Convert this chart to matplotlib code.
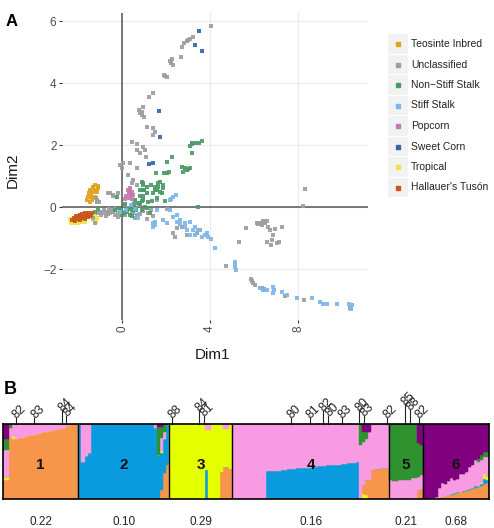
import numpy as np
import matplotlib
matplotlib.use("Agg")
import matplotlib.pyplot as plt
from matplotlib.patches import Rectangle

plt.rcParams["font.family"] = ["Liberation Sans", "DejaVu Sans"]

W, H = 494, 528

# ---------------- panel A data (Dim1, Dim2) ----------------
UNCLASSIFIED = [
    (4.05, 5.83), (3.24, 5.47), (3.09, 5.42), (2.94, 5.36), (2.83, 5.28), (2.73, 5.15), (3.00, 5.40),
    (2.68, 4.85), (2.26, 4.77), (2.21, 4.64), (2.30, 4.58), (2.18, 4.70), (1.91, 4.26), (2.03, 4.18),
    (1.97, 4.22), (1.42, 3.69), (1.23, 3.54), (0.97, 3.22), (0.82, 3.02), (0.89, 2.96), (1.00, 2.91),
    (0.79, 3.13), (0.92, 3.05), (1.12, 2.59), (1.42, 2.54), (1.50, 2.43), (1.42, 2.32), (0.44, 2.11),
    (0.67, 2.02), (0.97, 1.95), (1.06, 1.84), (0.82, 1.73), (1.09, 1.61), (0.67, 1.84), (-0.09, 1.35),
    (0.06, 1.43), (0.36, 1.41), (0.67, 1.25), (-0.02, 1.25), (0.29, 1.03), (0.44, 0.76), (0.52, 0.87),
    (0.67, 0.71), (0.36, 0.55), (-0.17, 0.44), (-0.55, 0.46), (-0.42, 0.35), (-0.62, 0.46), (-0.39, 0.39),
    (-1.15, 0.23), (-1.03, 0.17), (-1.23, -0.53), (-1.30, -0.37), (-1.00, -0.15), (-0.85, -0.20),
    (-0.70, -0.15), (-0.55, -0.20), (-0.47, -0.10), (-0.32, -0.26), (-0.17, -0.31), (-0.09, -0.10),
    (0.14, 0.07), (0.29, -0.04), (0.44, -0.15), (0.80, -0.24), (0.95, -0.13), (1.18, -0.18), (1.12, -0.40),
    (1.42, -0.29), (1.58, 0.23), (-1.10, -0.20), (-0.95, -0.25), (-0.80, -0.10), (-0.75, -0.30),
    (-0.65, -0.22), (-0.60, -0.05), (-0.40, -0.15), (-0.30, -0.05), (-0.20, -0.20), (0.05, -0.15),
    (0.15, -0.25), (0.25, -0.05), (0.50, -0.20), (0.60, -0.35), (0.75, 0.05), (1.30, -0.10), (2.05, -0.05),
    (-1.20, 0.30), (-1.15, 0.15), (2.33, -0.83), (2.41, -0.96), (2.97, -0.90), (3.39, -0.83), (3.55, -0.74),
    (2.71, -0.63), (2.48, -0.69), (8.32, 0.57), (8.21, 0.03), (5.62, -0.69), (5.33, -1.12), (6.12, -0.53),
    (6.27, -0.50), (6.42, -0.44), (6.50, -0.53), (6.35, -0.58), (6.20, -0.55), (6.65, -0.66), (6.73, -0.74),
    (6.95, -0.72), (7.26, -0.63), (6.85, -0.90), (6.80, -1.06), (6.58, -1.12), (6.76, -1.23), (7.06, -1.15),
    (7.15, -1.12), (6.45, -0.47), (6.60, -0.45), (4.73, -1.89), (5.85, -2.32), (5.94, -2.44), (5.90, -2.40),
    (6.35, -2.62), (6.45, -2.66), (7.41, -2.87), (8.27, -3.00), (10.36, -3.27), (6.05, -2.52),
]
NON_STIFF = [
    (3.62, 2.13), (3.52, 2.08), (3.36, 2.05), (3.18, 2.03), (3.09, 1.97), (3.20, 2.08), (3.17, 1.73),
    (2.26, 1.62), (2.03, 1.44), (2.14, 1.14), (2.03, 1.11), (1.92, 1.09), (3.09, 1.25), (2.94, 1.19),
    (2.79, 1.14), (2.71, 1.30), (2.85, 1.25), (3.00, 1.22), (1.55, 1.09), (1.73, 0.82), (1.65, 0.66),
    (1.50, 0.55), (1.80, 0.44), (1.88, 0.71), (1.42, 0.44), (1.30, 0.71), (1.12, 0.44), (0.89, 0.82),
    (0.97, 0.71), (0.82, 0.34), (0.97, 0.23), (1.05, 0.01), (0.89, -0.10), (0.52, -0.10), (0.21, -0.15),
    (0.44, 0.01), (0.74, 0.12), (1.12, -0.04), (0.36, -0.26), (0.59, 0.23), (0.82, 0.55), (0.97, 0.34),
    (-0.24, 0.33), (-0.17, -0.04), (-0.32, -0.10), (3.44, 0.01), (0.15, 0.10), (0.30, -0.05), (0.55, 0.10),
    (0.65, -0.10), (0.80, 0.10), (0.90, 0.20), (1.00, 0.55), (0.10, -0.20), (-0.05, -0.10), (1.20, 0.15),
    (1.35, 0.20), (1.60, 0.30), (1.95, 0.20), (1.25, -0.20), (0.97, 0.55), (0.97, 0.76), (1.12, 0.65),
    (1.50, 0.65), (1.65, 0.76), (1.58, 0.55), (1.88, 0.60), (1.73, 0.49), (-1.23, -0.15), (-1.10, -0.05),
    (0.00, -0.25), (0.70, -0.25), (0.45, -0.30),
]
STIFF = [
    (2.45, 0.39), (2.21, 0.26), (2.33, 0.33), (2.18, 0.23), (1.59, -0.10), (1.50, -0.58), (1.42, -0.63),
    (1.88, -0.42), (2.03, -0.50), (2.18, -0.10), (2.33, -0.31), (2.48, -0.47), (2.64, -0.55), (2.86, -0.63),
    (2.94, -0.74), (3.09, -0.90), (3.24, -0.74), (3.32, -0.90), (3.55, -0.74), (3.62, -0.96), (3.77, -0.90),
    (3.92, -0.98), (4.03, -1.04), (4.23, -1.33), (5.14, -1.76), (5.14, -1.92), (5.18, -2.03), (5.12, -1.85),
    (6.27, -2.62), (6.42, -2.68), (6.58, -2.68), (6.88, -2.58), (6.91, -2.68), (6.86, -2.78), (7.26, -2.73),
    (7.48, -2.84), (7.94, -2.95), (8.62, -2.95), (9.00, -3.06), (9.15, -3.12), (9.30, -3.12), (9.76, -3.14),
    (10.33, -3.14), (10.44, -3.17), (10.39, -3.28), (0.67, -0.26), (0.74, -0.37), (1.50, -0.47),
    (1.42, -0.52), (2.48, -0.26), (2.64, -0.42), (2.86, -0.53), (3.09, -0.47), (3.32, -0.64), (3.47, -0.74),
    (0.40, 0.05), (-0.10, -0.15), (0.20, -0.10), (0.60, -0.05), (3.85, -0.85),
]
SWEET = [(3.50, 5.69), (3.32, 5.23), (3.62, 5.04), (1.70, 3.10), (1.73, 2.25), (1.42, 1.43), (1.24, 1.38)]
POPCORN = [(0.25, 0.55), (0.35, 0.52), (0.45, 0.48), (0.30, 0.42), (0.40, 0.38), (0.20, 0.35),
           (0.32, 0.30), (0.45, 0.27), (0.15, 0.25), (0.52, 0.40), (0.38, 0.60)]
TEOSINTE = [(-1.23, 0.71), (-1.08, 0.68), (-1.30, 0.66), (-1.45, 0.55), (-1.33, 0.49), (-1.15, 0.49),
            (-1.53, 0.33), (-1.38, 0.28), (-1.58, 0.23), (-1.45, 0.17), (-1.23, 0.33), (-1.30, 0.60),
            (-1.20, 0.55), (-1.40, 0.40), (-1.50, 0.45), (-1.10, 0.62), (-1.35, 0.22)]
TUSON = [(-2.28, -0.42), (-2.20, -0.35), (-2.10, -0.30), (-2.00, -0.28), (-1.90, -0.25), (-1.80, -0.22),
         (-1.70, -0.20), (-1.60, -0.22), (-1.50, -0.20), (-1.40, -0.25), (-2.20, -0.42), (-2.05, -0.40),
         (-1.95, -0.38), (-1.85, -0.35), (-1.75, -0.33), (-1.65, -0.30), (-1.55, -0.32), (-1.45, -0.30),
         (-2.15, -0.45), (-1.35, -0.20), (-1.90, -0.42), (-1.70, -0.40)]
TROPICAL = [(-2.30, -0.50), (-2.15, -0.52), (-2.00, -0.50), (-1.85, -0.48), (-1.30, -0.42), (-1.20, -0.48),
            (-1.25, -0.30), (-2.35, -0.40), (-1.15, -0.35), (-1.70, -0.47)]

# legend order, label, colour
CATEGORIES = [
    ("Teosinte Inbred", TEOSINTE, "#E1A21C"),
    ("Unclassified", UNCLASSIFIED, "#9E9E9E"),
    ("Non\u2212Stiff Stalk", NON_STIFF, "#4A9A68"),
    ("Stiff Stalk", STIFF, "#7DB6E8"),
    ("Popcorn", POPCORN, "#C878B0"),
    ("Sweet Corn", SWEET, "#3566AA"),
    ("Tropical", TROPICAL, "#EFE443"),
    ("Hallauer's Tus\u00f3n", TUSON, "#C9561A"),
]
DRAW_ORDER = [6, 0, 1, 2, 3, 4, 5, 7]

# ---------------- panel B data (ancestry fractions per column, bottom -> top) ----------------
K_COLORS = {"orange": "#F7964A", "blue": "#0A9BDF", "yellow": "#E4FF00",
            "pink": "#F89BE3", "green": "#2E922E", "purple": "#800080"}

G1 = {
    "orange": [.25, .25, .82, .80, .80, .81, .82, .83, .84, .85, .86, .87, .88, .89, .90, .91, .91, .92,
               .93, .94, .95, .98, 1, 1, 1],
    "yellow": [.03, .03, 0, .04] + [0] * 21,
    "pink": [.38, .38, .13, .16, .20, .19, .18, .17, .16, .15, .14, .13, .12, .11, .10, .09, .09, .08,
             .07, .06, .05, .02, 0, 0, 0],
    "green": [.14, .14, .05] + [0] * 22,
    "purple": [.20, .20] + [0] * 23,
}
G2 = {
    "orange": [0] * 27 + [.12, .35, .45],
    "blue": [1, .5, .58, .62] + [1] * 21 + [.95, .59, .49, .45, .55],
    "yellow": [0] * 27 + [.03, 0, 0],
    "pink": [0, .5, .42, .38] + [0] * 21 + [.05, 0, .18, .10, 0],
    "green": [0] * 26 + [.37, .14, .10, 0],
    "purple": [0] * 26 + [.04, .04, 0, 0],
}
G3 = {
    "orange": [0] * 17 + [.36, .43, .43, .40],
    "blue": [0] * 12 + [.39] + [0] * 8,
    "yellow": [1] * 12 + [.53, .92, 1, 1, 1, .64, .50, .50, .60],
    "pink": [0] * 12 + [.08, .08, 0, 0, 0, 0, .07, .07, 0],
}
G4 = {
    "yellow": [0] * 43 + [.07, .06] + [0] * 7,
    "orange": [0] * 43 + [.12, .20, .25, .39, .40, .40, .41, .42, .42],
    "blue": [0] * 11 + [.37, .37, .38, .38, .38, .39, .39, .40, .40, .40, .41, .41, .42, .42, .42, .43,
                        .43, .44, .44, .44, .45, .45, .46, .46, .46, .47, .47, .48, .48, .48, .49]
            + [0] * 10,
    "pink": [1] * 11 + [.63, .63, .62, .62, .62, .61, .61, .60, .60, .60, .59, .59, .58, .58, .58, .57,
                        .57, .56, .56, .56, .55, .55, .54, .54, .54, .53, .53, .52, .52, .52, .51]
            + [.72, .57, .54, .65, .61, .60, .60, .59, .58, .58],
    "green": [0] * 42 + [.28, .14, .10] + [0] * 7,
    "purple": [0] * 43 + [.10, .10, .10] + [0] * 6,
}
G5 = {
    "orange": [0] * 9 + [.12, .14],
    "blue": [0, 0, 0, 0, 0, .02, 0, 0, 0, 0, 0],
    "pink": [.26, .24, .24, .26, .26, .23, .25, .28, .28, .18, .18],
    "green": [.74, .76, .76, .74, .74, .75, .75, .72, .72, .45, .40],
    "purple": [0] * 9 + [.25, .28],
}
G6 = {
    "orange": [0, 0, 0, 0, .01, .02, .03, .04, .05, .06, .07, .08, .09, .10, .11, .12, .13, .15, .16,
               .18, .20, .21],
    "blue": [0] * 8 + [.01] * 7 + [.02] * 5 + [.07, .05],
    "yellow": [0] * 19 + [.02, .07, .03],
    "pink": [0, 0, .02, .02, .02, .13, .19, .16, .18, .21, .17, .18, .24, .23, .24, .29, .30, .35, .32,
             .30, .22, .27],
    "green": [0] * 18 + [.04, .07, .07, .07],
    "purple": [1, 1, .98, .98, .97, .85, .78, .80, .76, .72, .75, .73, .66, .66, .64, .57, .55, .48, .46,
               .41, .37, .37],
}
GROUPS = [G1, G2, G3, G4, G5, G6]
GROUP_NAMES = ["1", "2", "3", "4", "5", "6"]
GROUP_VALUES = ["0.22", "0.10", "0.29", "0.16", "0.21", "0.68"]

# marked lines above the bar plot (column position, label, tick length in px)
MARK_POS = [4.3, 10.3, 19.5, 20.9, 56.0, 64.9, 66.6, 95.4, 101.7, 106.0, 107.7, 112.3, 117.9, 119.6,
            127.2, 133.2, 134.8, 137.8]
MARK_LAB = ["82", "83", "84", "84", "88", "84", "81", "80", "81", "82", "80", "83", "80", "83",
            "82", "85", "88", "82"]
MARK_LEN = [6, 6, 12.6, 7.6, 6, 12.6, 7.6, 6, 6, 12.6, 7.6, 6, 12.6, 7.6, 6, 19, 14, 6]

fig = plt.figure(figsize=(W / 100, H / 100), dpi=100)

# ---------------- panel A ----------------
axA = fig.add_axes([62 / W, 1 - 320 / H, 306 / W, 307 / H])
axA.set_xlim(-2.73, 11.18)
axA.set_ylim(-3.645, 6.26)
axA.set_xticks([0, 4, 8])
axA.set_yticks([-2, 0, 2, 4, 6])
axA.grid(True, color="#EBEBEB", linewidth=0.8)
axA.set_axisbelow(True)
for s in axA.spines.values():
    s.set_visible(False)
axA.axhline(0, color="#555555", linewidth=1.1, zorder=1)
axA.axvline(0, color="#555555", linewidth=1.1, zorder=1)
axA.tick_params(length=2.5, width=0.8, color="#333333", labelsize=8.5, labelcolor="#4D4D4D", pad=1.5)
plt.setp(axA.get_xticklabels(), rotation=90, va="top")

for i in DRAW_ORDER:
    name, pts, col = CATEGORIES[i]
    arr = np.array(pts)
    axA.scatter(arr[:, 0], arr[:, 1], s=11, marker="s", color=col, alpha=0.92, linewidths=0, zorder=2)

# overlay in pixel coordinates for labels and legend
ov = fig.add_axes([0, 0, 1, 1])
ov.set_xlim(0, W)
ov.set_ylim(H, 0)
ov.axis("off")
ov.patch.set_visible(False)

ov.text(12, 21, "A", fontsize=12, fontweight="bold", ha="center", va="center")
ov.text(212, 355, "Dim1", fontsize=11, ha="center", va="center", color="#1A1A1A")
ov.text(13, 170, "Dim2", fontsize=11, ha="center", va="center", rotation=90, color="#1A1A1A")

for i, (name, pts, col) in enumerate(CATEGORIES):
    yc = 44 + 20.5 * i
    ov.add_patch(Rectangle((388, yc - 10), 20, 19.5, color="#F2F2F2", linewidth=0))
    ov.plot([398], [yc], marker="s", markersize=2.7, color=col, linestyle="none")
    ov.text(411, yc, name, fontsize=7.5, ha="left", va="center", color="#222222")

ov.text(10, 390, "B", fontsize=13, fontweight="bold", ha="center", va="center")

# ---------------- panel B ----------------
axB = fig.add_axes([3 / W, 1 - 499 / H, 486 / W, 75 / H])
start = 0
bounds = []
for g in GROUPS:
    n = len(next(iter(g.values())))
    xs = start + np.arange(n) + 0.5
    bottom = np.zeros(n)
    for k, vals in g.items():
        vals = np.array(vals, dtype=float)
        axB.bar(xs, vals, width=1.0, bottom=bottom, color=K_COLORS[k],
                edgecolor=K_COLORS[k], linewidth=0.3)
        bottom += vals
    bounds.append((start, start + n))
    start += n

total = start
axB.set_xlim(0, total)
axB.set_ylim(0, 1)
axB.set_xticks([])
axB.set_yticks([])
for s in axB.spines.values():
    s.set_color("black")
    s.set_linewidth(1.2)
for a, b in bounds[:-1]:
    axB.axvline(b, color="black", linewidth=1.0)

for (a, b), name, val in zip(bounds, GROUP_NAMES, GROUP_VALUES):
    c = (a + b) / 2
    axB.text(c, 0.45, name, fontsize=11, fontweight="bold", ha="center", va="center", color="#111111")
    axB.text(c, -0.31, val, fontsize=8.5, ha="center", va="center", color="#222222", clip_on=False)

px = 1 / 75  # one pixel in axes units
for pos, lab, ln in zip(MARK_POS, MARK_LAB, MARK_LEN):
    axB.plot([pos, pos], [1, 1 + ln * px], color="#222222", linewidth=0.8, clip_on=False)
    axB.text(pos - 0.4, 1 + (ln + 1.5) * px, lab, fontsize=9, rotation=45, rotation_mode="anchor",
             ha="left", va="center", color="#222222", clip_on=False)

fig.savefig("out.png", dpi=100)
